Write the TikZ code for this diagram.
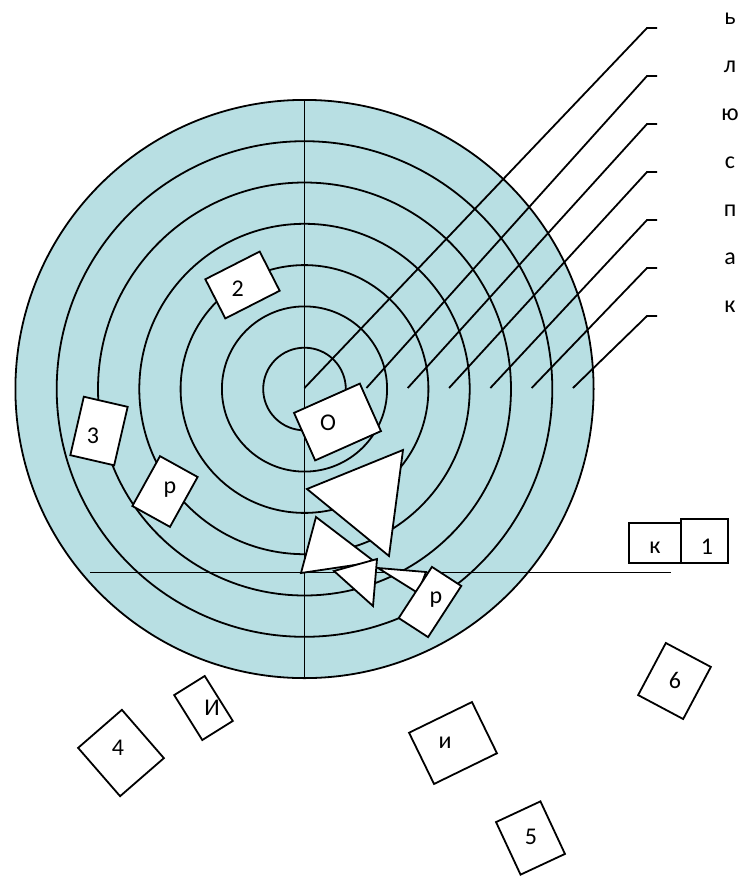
\documentclass[tikz,border=0pt]{standalone}
\usepackage{fontspec}
\setmainfont{Carlito}
\usetikzlibrary{calc}
\definecolor{ringfill}{HTML}{B8DFE3}
\tikzset{
    ring/.style={draw=black, line width=1.8pt},
    leader/.style={draw=black, line width=1.8pt},
    tri/.style={draw=black, fill=white, line width=1.8pt, line join=miter},
    tile/.style={draw=black, fill=white, line width=1.8pt, rectangle, inner sep=0pt},
    lbl/.style={font=\fontsize{24}{28}\selectfont, inner sep=0pt}
}
\begin{document}
\begin{tikzpicture}[x=1pt, y=-1pt]
    \useasboundingbox (0,0) rectangle (739,876);
    \coordinate (ctr) at (304.5,389);

    % target
    \fill[ringfill] (ctr) circle[radius=289];
    \foreach \k in {1,...,7}
      \draw[ring] (ctr) circle[radius=41.3*\k];

    \coordinate (vtop) at (304.5,100);
    \coordinate (vbot) at (304.5,678);
    \draw[ring] (vtop) -- (vbot);
    \coordinate (hleft) at (90,572.5);
    \coordinate (hright) at (671,572.5);
    \draw[ring] (hleft) -- (hright);

    % leaders to the ring names
    \foreach \lab [count=\i from 0] in {ь,л,ю,с,п,а,к} {
      \pgfmathsetmacro{\sx}{\i==0 ? 304.5 : 304.5+41.3*(\i+0.5)}
      \pgfmathsetmacro{\ky}{28+48*\i}
      \coordinate (lead\i) at (\sx,388);
      \coordinate (kink\i) at (647,\ky);
      \coordinate (tip\i) at (657,\ky);
      \draw[leader] (lead\i) -- (kink\i) -- (tip\i);
      \node[lbl] (tag\i) at (730,\ky-9) {\lab};
    }

    % arrows
    \draw[tri] (307,489) -- (403,450) -- (389,556) -- cycle;
    \draw[tri] (316,517) -- (301,573) -- (375,562) -- cycle;
    \draw[tri] (378,568) -- (426,572) -- (418,593) -- cycle;
    \draw[tri] (334,571) -- (377,559) -- (373,606) -- cycle;

    % cards
    \node[tile, minimum width=61pt, minimum height=44pt, rotate=27] (box2) at (242.5,285) {};
    \node[lbl] (txt2) at (237.7,289) {2};
    \node[tile, minimum width=72pt, minimum height=52pt, rotate=24] (boxO) at (337.5,422) {};
    \node[lbl] (txtO) at (328,423) {О};
    \node[tile, minimum width=45pt, minimum height=60pt, rotate=-13] (box3) at (99,431) {};
    \node[lbl] (txt3) at (93,436) {3};
    \node[tile, minimum width=43pt, minimum height=57pt, rotate=-29] (boxRl) at (165,491.5) {};
    \node[lbl] (txtRl) at (170,490) {р};
    \node[tile, minimum width=35pt, minimum height=61pt, rotate=-33] (boxRr) at (430,602) {};
    \node[lbl] (txtRr) at (436,600) {р};
    \node[tile, minimum width=52pt, minimum height=40pt] (boxK) at (655,543) {};
    \node[lbl] (txtK) at (655,548) {к};
    \node[tile, minimum width=47pt, minimum height=44pt] (box1) at (704.5,541) {};
    \node[lbl] (txt1) at (707,547) {1};
    \node[tile, minimum width=51pt, minimum height=59pt, rotate=-28] (box6) at (674.5,681) {};
    \node[lbl] (txt6) at (675,680) {6};
    \node[tile, minimum width=58pt, minimum height=64pt, rotate=41] (box4) at (121,753) {};
    \node[lbl] (txt4) at (118,748) {4};
    \node[tile, minimum width=36pt, minimum height=53pt, rotate=32] (boxIu) at (203.5,708) {};
    \node[lbl] (txtIu) at (212,708) {И};
    \node[tile, minimum width=70pt, minimum height=57pt, rotate=26] (boxIl) at (453,743) {};
    \node[lbl] (txtIl) at (445,743) {и};
    \node[tile, minimum width=49pt, minimum height=58pt, rotate=25] (box5) at (530.5,838) {};
    \node[lbl] (txt5) at (531,837) {5};
\end{tikzpicture}
\end{document}
